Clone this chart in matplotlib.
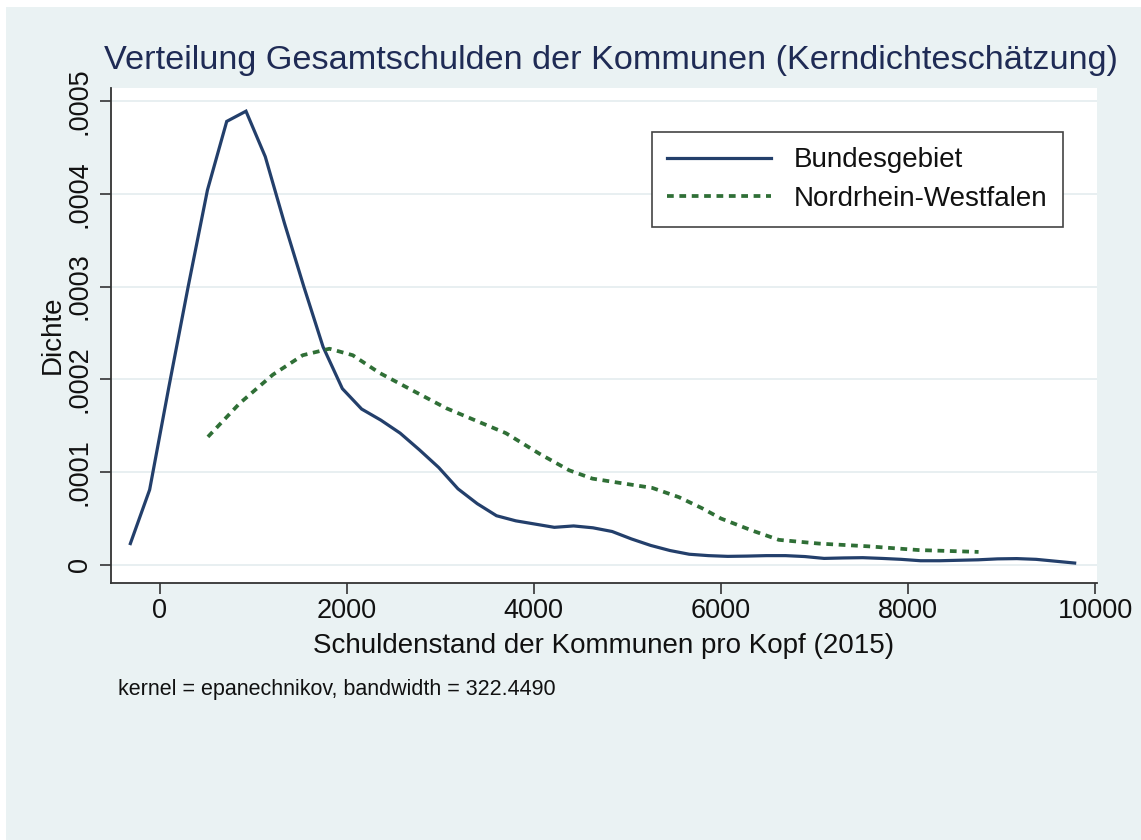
#!/usr/bin/env python3
"""Kernel density of municipal debt per capita, Stata-style look."""

import matplotlib.pyplot as plt
from matplotlib.patches import Rectangle

plt.rcParams["font.family"] = ["Liberation Sans", "DejaVu Sans"]

# Bundesgebiet: kdensity evaluation points (EUR per capita) and density
bund_x = [-313, -107, 99, 305, 511, 717, 923, 1129, 1335, 1541, 1747, 1953,
          2159, 2365, 2571, 2777, 2983, 3189, 3395, 3601, 3807, 4013, 4219,
          4425, 4631, 4837, 5043, 5249, 5455, 5661, 5867, 6073, 6279, 6485,
          6691, 6897, 7103, 7309, 7515, 7721, 7927, 8133, 8339, 8545, 8751,
          8957, 9163, 9369, 9575, 9781]
bund_y = [0.23, 0.81, 1.92, 3.00, 4.04, 4.78, 4.89, 4.40, 3.68, 3.00, 2.35,
          1.90, 1.68, 1.56, 1.42, 1.24, 1.05, 0.82, 0.66, 0.53, 0.475, 0.44,
          0.405, 0.42, 0.40, 0.36, 0.28, 0.21, 0.155, 0.115, 0.10, 0.092,
          0.095, 0.10, 0.10, 0.09, 0.07, 0.075, 0.078, 0.07, 0.06, 0.045,
          0.045, 0.05, 0.055, 0.065, 0.068, 0.06, 0.04, 0.02]

# Nordrhein-Westfalen
nrw_x = [516, 854, 1210, 1530, 1815, 2064, 2349, 2704, 3061, 3416, 3701,
         4057, 4377, 4626, 4911, 5266, 5551, 5800, 6000, 6334, 6619, 7046,
         7580, 8114, 8754]
nrw_y = [1.38, 1.74, 2.05, 2.26, 2.33, 2.26, 2.07, 1.88, 1.69, 1.54, 1.42,
         1.20, 1.02, 0.93, 0.885, 0.83, 0.73, 0.61, 0.50, 0.37, 0.27, 0.23,
         0.20, 0.16, 0.14]

x_ticks = [0, 2000, 4000, 6000, 8000, 10000]
y_ticks = [0, 0.0001, 0.0002, 0.0003, 0.0004, 0.0005]
y_tick_labels = ["0", ".0001", ".0002", ".0003", ".0004", ".0005"]

BG = "#eaf2f3"
NAVY = "#233f6b"
GREEN = "#2f6f36"
AXIS = "#333333"

W, H = 1141, 840
fig = plt.figure(figsize=(W / 100, H / 100), dpi=100, facecolor="white")
fig.patches.append(Rectangle((6 / W, 0), 1, 1 - 7 / H, transform=fig.transFigure,
                             facecolor=BG, edgecolor="none", zorder=-10))

left, right, top, bottom = 111, 1097, 88, 583
ax = fig.add_axes([left / W, 1 - bottom / H, (right - left) / W, (bottom - top) / H])
ax.set_facecolor("white")

ax.plot(bund_x, [v * 1e-4 for v in bund_y], color=NAVY, lw=2.3,
        label="Bundesgebiet", solid_joinstyle="miter", zorder=3)
ax.plot(nrw_x, [v * 1e-4 for v in nrw_y], color=GREEN, lw=2.7,
        linestyle=(0, (1.8, 1.5)), label="Nordrhein-Westfalen", zorder=3)

ax.set_xlim(-520, 10020)
ax.set_ylim(-0.0000195, 0.000514)
ax.set_xticks(x_ticks)
ax.set_xticklabels([str(t) for t in x_ticks])
ax.set_yticks(y_ticks)
ax.set_yticklabels(y_tick_labels, rotation=90, va="center")

for y in y_ticks:
    ax.axhline(y, color="#e6eef0", lw=1.3, zorder=1)

for side in ("top", "right"):
    ax.spines[side].set_visible(False)
for side in ("left", "bottom"):
    ax.spines[side].set_color(AXIS)
    ax.spines[side].set_linewidth(1.3)
ax.tick_params(axis="both", direction="out", length=8, width=1.2, color=AXIS,
               labelsize=19.5, labelcolor="#111111")
ax.tick_params(axis="x", pad=3)
ax.tick_params(axis="y", pad=5)

fig.text(611 / W, 1 - 69 / H, "Verteilung Gesamtschulden der Kommunen (Kerndichteschätzung)",
         ha="center", va="baseline", fontsize=24.7, color="#1f2b55")
fig.text(53 / W, 1 - 335 / H, "Dichte", rotation=90, ha="center", va="center",
         fontsize=20, color="#111111")
fig.text(604 / W, 1 - 646 / H, "Schuldenstand der Kommunen pro Kopf (2015)",
         ha="center", va="center", fontsize=20, color="#111111")
fig.text(118 / W, 1 - 690 / H, "kernel = epanechnikov, bandwidth = 322.4490",
         ha="left", va="center", fontsize=15.5, color="#111111")

leg = ax.legend(loc="upper left", bbox_to_anchor=(652 / W, 1 - 132 / H),
                bbox_transform=fig.transFigure, borderaxespad=0, borderpad=0.55,
                labelspacing=0.45, handlelength=3.75, handletextpad=0.8,
                fontsize=20, fancybox=False, framealpha=1, edgecolor="#444444")
leg.get_frame().set_linewidth(1.2)
for text in leg.get_texts():
    text.set_color("#111111")

fig.savefig("out.png", dpi=100, facecolor=fig.get_facecolor())
